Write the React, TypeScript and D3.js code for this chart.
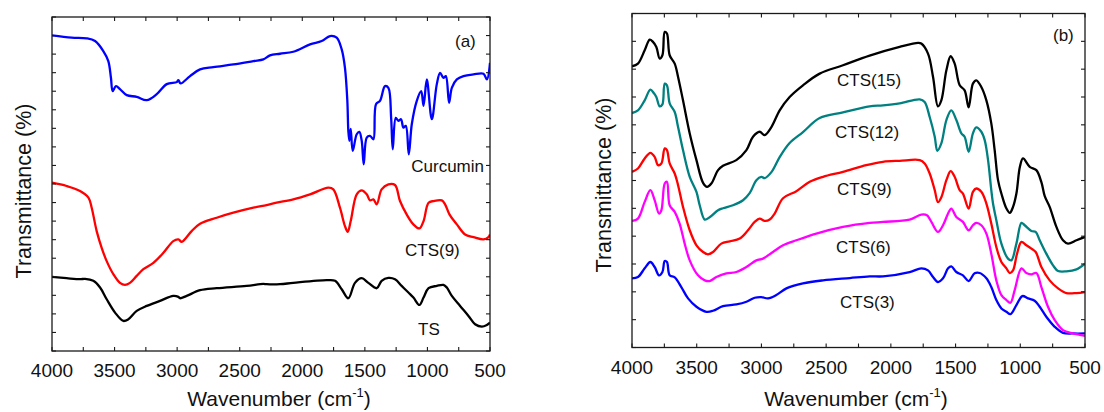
import React from 'react';
import * as d3 from 'd3';

type Pt = [number, number];

// ---------- DATA (wavenumber cm-1, transmittance a.u.) ----------
const xTickValues = [4000, 3500, 3000, 2500, 2000, 1500, 1000, 500];
const xMinorStep = 250;

// Panel (a)
const curcuminA: Pt[] = [
  [4000, 94.5], [3843, 93.8], [3723, 93.6], [3656, 92.8], [3590, 89.8], [3550, 86.8], [3529, 81.8],
  [3515, 77.8], [3489, 79.3], [3457, 78.4], [3403, 76.6], [3323, 76.1], [3243, 75.1], [3163, 76.9],
  [3083, 79.9], [3003, 80.5], [2990, 81.1], [2972, 80.1], [2897, 82.3], [2817, 84.3], [2711, 85.0],
  [2551, 85.8], [2391, 86.8], [2311, 87.3], [2258, 88.5], [2178, 89.0], [2072, 89.6], [1938, 91.8],
  [1845, 92.8], [1778, 94.3], [1725, 93.8], [1685, 90.3], [1659, 84.8], [1640, 74.9], [1632, 65.9],
  [1624, 62.9], [1613, 66.5], [1597, 59.9], [1565, 64.9], [1544, 65.6], [1525, 62.9], [1509, 55.9],
  [1485, 63.9], [1459, 64.4], [1432, 63.4], [1411, 73.9], [1379, 74.9], [1339, 79.3], [1312, 78.8],
  [1290, 69.8], [1277, 60.4], [1253, 69.8], [1232, 68.9], [1211, 69.4], [1192, 66.9], [1173, 67.4],
  [1149, 58.9], [1125, 67.9], [1085, 74.9], [1050, 77.8], [1031, 73.4], [1005, 81.3], [965, 69.4],
  [925, 79.9], [899, 83.3], [872, 81.8], [853, 82.3], [827, 74.3], [805, 78.8], [765, 81.3],
  [712, 82.3], [632, 82.8], [552, 83.0], [525, 81.3], [500, 86.3],
];

const cts9A: Pt[] = [
  [4000, 50.4], [3883, 49.4], [3776, 47.9], [3709, 45.9], [3683, 42.9], [3643, 35.9], [3603, 30.9],
  [3563, 26.9], [3510, 23.0], [3457, 20.4], [3417, 19.8], [3377, 20.4], [3323, 22.5], [3270, 24.5],
  [3190, 26.4], [3110, 29.4], [3031, 32.9], [2990, 33.4], [2963, 32.7], [2884, 35.9], [2817, 38.1],
  [2684, 39.9], [2551, 41.4], [2391, 42.9], [2285, 43.7], [2205, 44.4], [2072, 45.4], [1938, 46.9],
  [1792, 48.9], [1752, 48.4], [1699, 42.9], [1659, 37.4], [1637, 35.7], [1613, 38.9], [1565, 46.9],
  [1525, 48.1], [1485, 46.9], [1459, 45.1], [1432, 45.4], [1405, 43.9], [1366, 48.4], [1312, 49.9],
  [1259, 49.7], [1219, 44.9], [1166, 40.9], [1112, 37.9], [1064, 36.7], [1031, 38.9], [991, 44.4],
  [951, 44.9], [885, 45.1], [859, 43.9], [824, 40.9], [765, 37.9], [699, 34.9], [632, 34.1],
  [552, 33.4], [512, 34.1], [500, 34.9],
];

const tsA: Pt[] = [
  [4000, 22.2], [3883, 21.8], [3776, 21.5], [3736, 21.6], [3670, 21.0], [3616, 19.0], [3563, 15.5],
  [3496, 11.5], [3430, 9.0], [3390, 9.5], [3323, 12.0], [3243, 13.5], [3137, 15.0], [3031, 16.5],
  [2990, 16.2], [2977, 15.8], [2924, 16.5], [2817, 18.2], [2684, 18.8], [2445, 19.5], [2311, 20.1],
  [2285, 20.0], [2178, 20.0], [2072, 20.4], [1805, 21.2], [1738, 21.0], [1685, 18.5], [1632, 15.8],
  [1579, 20.4], [1525, 21.8], [1472, 20.4], [1405, 18.8], [1366, 21.0], [1312, 21.9], [1259, 21.5],
  [1206, 19.5], [1152, 17.5], [1112, 16.0], [1064, 13.8], [1031, 16.0], [991, 18.8], [925, 19.5],
  [872, 19.8], [845, 19.0], [805, 16.5], [739, 13.5], [672, 10.5], [619, 8.0], [565, 7.3],
  [525, 7.8], [500, 8.5],
];

// Panel (b)
const cts15B: Pt[] = [
  [4000, 84.2], [3954, 85.0], [3902, 89.0], [3863, 92.2], [3838, 91.5], [3812, 90.0], [3786, 86.5],
  [3765, 87.5], [3747, 94.5], [3730, 94.0], [3709, 87.5], [3670, 85.0], [3644, 81.0], [3606, 74.0],
  [3554, 64.1], [3502, 56.1], [3451, 49.3], [3420, 48.1], [3387, 49.1], [3335, 53.1], [3297, 54.4],
  [3194, 56.1], [3116, 59.1], [3065, 63.1], [3014, 64.6], [2975, 63.6], [2923, 66.0], [2859, 71.0],
  [2782, 75.0], [2679, 78.5], [2550, 82.0], [2370, 84.5], [2164, 87.4], [1932, 90.0],
  [1790, 91.2], [1765, 91.0], [1713, 88.0], [1674, 81.0], [1636, 72.2], [1610, 74.0], [1571, 83.0],
  [1538, 87.2], [1507, 85.0], [1468, 78.5], [1430, 77.0], [1399, 71.9], [1366, 79.0], [1340, 80.0],
  [1301, 78.0], [1262, 74.0], [1224, 67.1], [1198, 59.1], [1172, 50.1], [1146, 46.1], [1107, 41.6],
  [1081, 40.3], [1056, 42.1], [1030, 46.1], [1003, 54.1], [979, 56.6], [927, 54.1], [876, 53.1],
  [837, 49.5], [811, 45.3], [773, 42.1], [721, 36.1], [670, 32.1], [631, 31.1], [566, 32.1],
  [500, 33.1],
];

const cts12B: Pt[] = [
  [4000, 70.2], [3954, 71.0], [3902, 74.0], [3858, 77.2], [3832, 76.2], [3812, 75.0], [3786, 72.2],
  [3765, 72.8], [3747, 79.0], [3730, 78.5], [3709, 73.1], [3670, 70.5], [3644, 66.0], [3606, 59.1],
  [3554, 51.1], [3502, 46.6], [3477, 42.6], [3438, 38.3], [3400, 39.0], [3335, 41.1], [3297, 41.7],
  [3220, 42.6], [3142, 44.1], [3091, 46.2], [3039, 50.1], [3001, 51.1], [2975, 50.7], [2923, 52.5],
  [2859, 57.0], [2782, 61.2], [2679, 64.5], [2550, 68.7], [2370, 70.4], [2164, 72.2], [2061, 72.5],
  [1932, 73.1], [1777, 74.3], [1739, 73.5], [1700, 69.0], [1661, 63.1], [1641, 58.9], [1610, 61.1],
  [1571, 68.1], [1533, 71.0], [1494, 68.1], [1455, 64.1], [1430, 63.1], [1399, 58.6], [1366, 64.1],
  [1340, 65.9], [1301, 64.6], [1275, 62.1], [1249, 56.1], [1224, 47.1], [1211, 43.2], [1185, 38.1],
  [1146, 31.1], [1095, 26.6], [1069, 26.1], [1030, 31.1], [991, 37.3], [966, 36.6], [914, 34.9],
  [881, 34.6], [850, 32.1], [799, 28.1], [747, 24.6], [708, 22.9], [644, 22.8], [566, 23.4],
  [500, 25.1],
];

const cts9B: Pt[] = [
  [4000, 52.6], [3954, 53.6], [3902, 56.6], [3858, 58.3], [3825, 57.1], [3799, 54.6], [3773, 55.1],
  [3747, 59.6], [3730, 59.1], [3709, 55.1], [3670, 52.1], [3644, 48.6], [3606, 42.1], [3554, 35.1],
  [3502, 30.6], [3451, 28.6], [3413, 27.9], [3374, 28.6], [3310, 31.1], [3245, 31.8], [3168, 32.6],
  [3104, 35.1], [3052, 37.6], [3014, 38.6], [2975, 37.9], [2936, 38.3], [2898, 40.1], [2833, 44.7],
  [2730, 46.8], [2627, 49.6], [2524, 51.1], [2370, 52.6], [2190, 54.6], [2061, 55.6], [1932, 55.9],
  [1777, 56.1], [1739, 55.1], [1700, 52.1], [1661, 47.1], [1636, 43.5], [1610, 45.0], [1571, 50.1],
  [1538, 52.8], [1507, 51.1], [1468, 47.1], [1443, 46.1], [1399, 41.6], [1366, 46.6], [1340, 47.6],
  [1301, 46.6], [1262, 43.1], [1224, 37.1], [1185, 30.1], [1146, 25.6], [1107, 23.7], [1081, 22.3],
  [1056, 23.1], [1025, 28.1], [991, 31.6], [953, 30.6], [914, 29.6], [881, 28.6], [837, 24.1],
  [773, 20.1], [708, 17.7], [644, 16.3], [566, 16.3], [500, 16.6],
];

const cts6B: Pt[] = [
  [4000, 37.9], [3954, 38.6], [3902, 43.6], [3858, 47.1], [3825, 44.1], [3791, 40.1], [3773, 41.1],
  [3747, 49.1], [3730, 49.6], [3709, 42.6], [3670, 40.6], [3632, 37.1], [3593, 31.1], [3554, 26.1],
  [3490, 21.6], [3438, 20.1], [3400, 19.9], [3348, 21.1], [3271, 22.2], [3194, 22.6], [3116, 24.1],
  [3039, 26.1], [2988, 26.6], [2911, 28.6], [2833, 30.6], [2730, 32.1], [2576, 34.1], [2370, 36.1],
  [2164, 37.3], [2061, 37.6], [1855, 38.3], [1765, 39.8], [1721, 39.6], [1687, 37.6], [1636, 34.6],
  [1597, 36.6], [1558, 40.1], [1533, 41.6], [1494, 39.1], [1443, 37.6], [1399, 35.1], [1366, 36.6],
  [1340, 37.3], [1301, 36.6], [1262, 34.1], [1224, 28.1], [1185, 20.1], [1146, 15.7], [1107, 14.2],
  [1076, 13.4], [1043, 17.2], [991, 23.7], [953, 22.3], [914, 21.9], [876, 22.3], [837, 18.1],
  [786, 12.2], [734, 8.2], [670, 5.2], [593, 4.2], [500, 3.5],
];

const cts3B: Pt[] = [
  [4000, 20.7], [3954, 21.1], [3902, 23.7], [3858, 25.6], [3825, 24.1], [3791, 21.6], [3765, 22.6],
  [3747, 25.9], [3730, 25.6], [3709, 21.6], [3670, 21.0], [3619, 18.1], [3567, 14.7], [3502, 12.2],
  [3425, 10.7], [3374, 11.0], [3297, 12.4], [3194, 12.9], [3116, 13.7], [3052, 14.9], [3001, 15.1],
  [2949, 14.7], [2885, 15.7], [2807, 17.7], [2679, 19.2], [2524, 20.1], [2318, 20.8], [2164, 21.3],
  [2061, 21.3], [1855, 22.6], [1765, 23.7], [1713, 23.1], [1674, 21.1], [1636, 19.6], [1597, 20.7],
  [1558, 23.7], [1533, 24.3], [1494, 22.6], [1443, 21.6], [1399, 19.9], [1353, 22.2], [1314, 22.3],
  [1262, 20.7], [1224, 18.1], [1185, 14.2], [1146, 11.7], [1107, 10.7], [1076, 10.0], [1030, 12.7],
  [984, 15.4], [940, 14.7], [889, 14.0], [850, 12.2], [799, 9.2], [734, 6.2], [670, 4.4],
  [593, 4.2], [500, 4.2],
];

// ---------- LAYOUT ----------
const FONT = '"Liberation Sans", Arial, Helvetica, sans-serif';

type Series = { data: Pt[]; color: string };
type Label = { text: string; x: number; y: number; anchor?: 'start' | 'end' | 'middle' };

type PanelProps = {
  x0: number; x1: number; y0: number; y1: number;
  yDivisions: number;
  series: Series[];
  labels: Label[];
  titleX: number;
  titleY: number;
  xTitleCenter: number;
};

function Panel({ x0, x1, y0, y1, yDivisions, series, labels, titleX, titleY, xTitleCenter }: PanelProps) {
  const xs = d3.scaleLinear().domain([4000, 500]).range([x0, x1]);
  const ys = d3.scaleLinear().domain([0, 100]).range([y1, y0]);
  const line = d3
    .line<Pt>()
    .x((d) => xs(d[0]))
    .y((d) => ys(d[1]))
    .curve(d3.curveCatmullRom.alpha(0.5));

  const minor = d3.range(4000, 499, -xMinorStep);
  const yTicks = d3.range(0, yDivisions + 1).map((i) => (100 * i) / yDivisions);
  const axisColor = '#1a1a1a';
  const tl = 4;

  return (
    <g>
      <defs>
        <clipPath id={`clip-${x0}`}>
          <rect x={x0} y={y0 - 2} width={x1 - x0} height={y1 - y0 + 4} />
        </clipPath>
      </defs>
      <g clipPath={`url(#clip-${x0})`}>
        {series.map((s, i) => (
          <path key={i} d={line(s.data) || ''} fill="none" stroke={s.color} strokeWidth={2.3} strokeLinejoin="round" />
        ))}
      </g>
      <rect x={x0} y={y0} width={x1 - x0} height={y1 - y0} fill="none" stroke={axisColor} strokeWidth={1.3} />
      {minor.map((w) => (
        <g key={w}>
          <line x1={xs(w)} x2={xs(w)} y1={y1} y2={y1 - tl} stroke={axisColor} strokeWidth={1.1} />
          <line x1={xs(w)} x2={xs(w)} y1={y0} y2={y0 + tl} stroke={axisColor} strokeWidth={1.1} />
        </g>
      ))}
      {yTicks.map((v) => (
        <g key={v}>
          <line x1={x0} x2={x0 + tl} y1={ys(v)} y2={ys(v)} stroke={axisColor} strokeWidth={1.1} />
          <line x1={x1} x2={x1 - tl} y1={ys(v)} y2={ys(v)} stroke={axisColor} strokeWidth={1.1} />
        </g>
      ))}
      {xTickValues.map((w) => (
        <text key={w} x={xs(w)} y={y1 + 26} textAnchor="middle" fontSize={19} fontFamily={FONT} fill="#111">
          {w}
        </text>
      ))}
      <text x={xTitleCenter} y={406} textAnchor="middle" fontSize={21} fontFamily={FONT} fill="#111">
        Wavenumber (cm
        <tspan dy={-9} fontSize={13}>-1</tspan>
        <tspan dy={9}>)</tspan>
      </text>
      <text
        transform={`translate(${titleX},${titleY}) rotate(-90)`}
        textAnchor="middle"
        fontSize={21.5}
        fontFamily={FONT}
        fill="#111"
      >
        Transmittance (%)
      </text>
      {labels.map((l, i) => (
        <text key={i} x={l.x} y={l.y} textAnchor={l.anchor || 'start'} fontSize={17} fontFamily={FONT} fill="#111">
          {l.text}
        </text>
      ))}
    </g>
  );
}

export default function App() {
  return (
    <svg
      width={1104}
      height={412}
      viewBox="0 0 1104 412"
      style={{ position: 'absolute', left: 0, top: 0, background: '#fff', display: 'block' }}
    >
      <rect x={0} y={0} width={1104} height={412} fill="#fff" />
      <Panel
        x0={52}
        x1={490}
        y0={17}
        y1={351}
        yDivisions={18}
        titleX={31}
        titleY={191}
        xTitleCenter={279}
        series={[
          { data: curcuminA, color: '#0000ff' },
          { data: cts9A, color: '#ff0000' },
          { data: tsA, color: '#000000' },
        ]}
        labels={[
          { text: 'Curcumin', x: 484, y: 172, anchor: 'end' },
          { text: 'CTS(9)', x: 405, y: 256 },
          { text: 'TS', x: 418, y: 335 },
          { text: '(a)', x: 455, y: 47 },
        ]}
      />
      <Panel
        x0={632}
        x1={1085}
        y0={13.5}
        y1={347.5}
        yDivisions={12}
        titleX={611}
        titleY={185}
        xTitleCenter={856}
        series={[
          { data: cts3B, color: '#0000ff' },
          { data: cts6B, color: '#ff00ff' },
          { data: cts9B, color: '#ff0000' },
          { data: cts12B, color: '#008080' },
          { data: cts15B, color: '#000000' },
        ]}
        labels={[
          { text: 'CTS(15)', x: 837, y: 86 },
          { text: 'CTS(12)', x: 835, y: 138 },
          { text: 'CTS(9)', x: 837, y: 195 },
          { text: 'CTS(6)', x: 836, y: 253 },
          { text: 'CTS(3)', x: 840, y: 308 },
          { text: '(b)', x: 1053, y: 41 },
        ]}
      />
    </svg>
  );
}
